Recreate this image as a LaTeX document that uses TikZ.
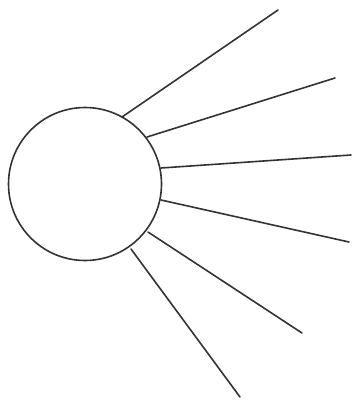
\documentclass[tikz,border=0pt]{standalone}
\begin{document}
\begin{tikzpicture}[x=1pt,y=-1pt,
  ray/.style={line width=1.6pt,draw=black!80,line cap=round},
  sun/.style={circle,draw=black!80,line width=1.6pt,minimum size=153pt,inner sep=0pt}]
\useasboundingbox (0,0) rectangle (353,400);
\node[sun] (c) at (85,184) {};
\coordinate (s1) at (122,117); \coordinate (e1) at (278,10);
\coordinate (s2) at (147,137); \coordinate (e2) at (335,78);
\coordinate (s3) at (161,168); \coordinate (e3) at (351,155);
\coordinate (s4) at (161,200); \coordinate (e4) at (349,242);
\coordinate (s5) at (148,232); \coordinate (e5) at (302,333);
\coordinate (s6) at (131,249); \coordinate (e6) at (240,397);
\foreach \i in {1,...,6} \draw[ray] (s\i) -- (e\i);
\end{tikzpicture}
\end{document}
